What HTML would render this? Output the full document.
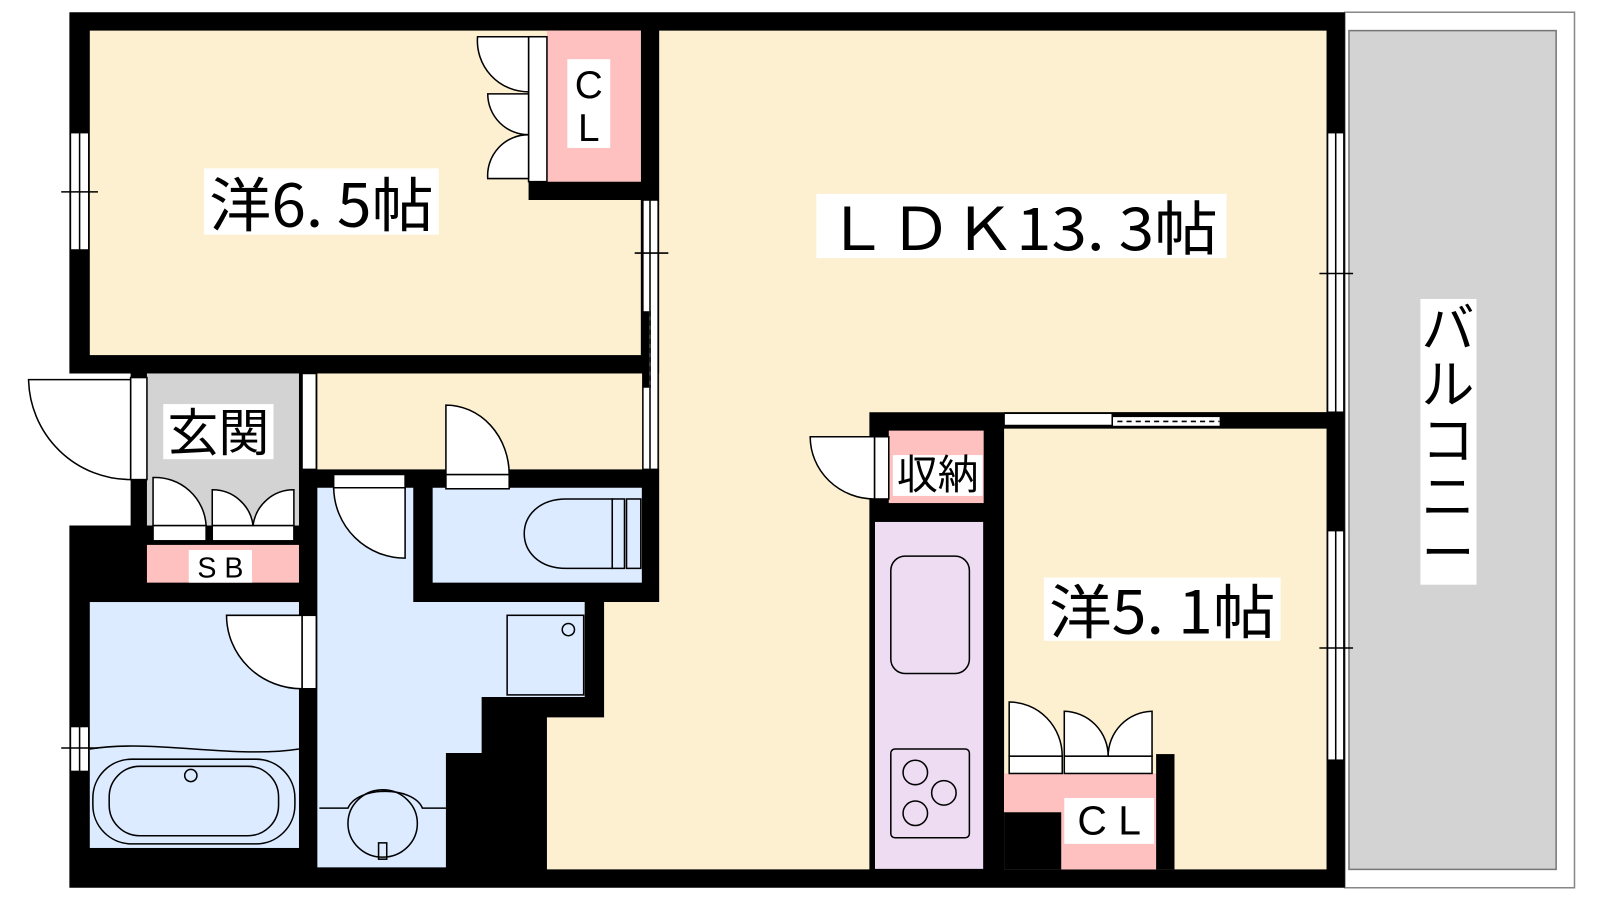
<!DOCTYPE html>
<html><head><meta charset="utf-8"><style>
html,body{margin:0;padding:0;background:#fff;width:1600px;height:900px;overflow:hidden}
svg{display:block}
text{font-family:"Noto Sans CJK JP","Liberation Sans",sans-serif;fill:#000}
text.lat{font-family:"Liberation Sans","Noto Sans CJK JP",sans-serif}
</style></head><body>
<svg width="1600" height="900" viewBox="0 0 1568 882" xmlns="http://www.w3.org/2000/svg">
<rect width="1568" height="882" fill="#fff"/>
<rect x="1318" y="12" width="225" height="858" fill="#fff" stroke="#888" stroke-width="1.5"/>
<rect x="1322" y="30" width="203" height="822" fill="#d3d3d3" stroke="#777" stroke-width="1.5"/>
<polygon points="68,12 1318,12 1318,870 68,870 68,515 128,515 128,366 68,366" fill="#000"/>
<rect x="88" y="30" width="540" height="318" fill="#fdf0d0"/>
<rect x="518" y="178" width="128" height="18" fill="#000"/>
<rect x="536" y="30" width="92" height="148" fill="#ffc0c0"/>
<polygon points="646,30 1300,30 1300,404 852,404 852,852 536,852 536,703 592,703 592,590 646,590" fill="#fdf0d0"/>
<rect x="311" y="366" width="335" height="94" fill="#fdf0d0"/>
<rect x="144" y="366" width="149" height="149" fill="#d3d3d3"/>
<rect x="144" y="534" width="149" height="37" fill="#ffc0c0"/>
<rect x="88" y="590" width="205" height="241" fill="#dcebff"/>
<polygon points="311,478 405,478 405,590 573,590 573,683 472,683 472,738 437,738 437,850 311,850" fill="#dcebff"/>
<rect x="424" y="478" width="205" height="93" fill="#dcebff"/>
<rect x="857" y="511" width="107" height="341" fill="#eedcf3" stroke="#000" stroke-width="1"/>
<rect x="871" y="422" width="93" height="71" fill="#ffc0c0"/>
<rect x="984" y="420" width="316" height="432" fill="#fdf0d0"/>
<rect x="984" y="758" width="149" height="38" fill="#ffc0c0"/>
<rect x="1040" y="796" width="93" height="56" fill="#ffc0c0"/>
<rect x="984" y="796" width="56" height="56" fill="#000"/>
<rect x="1133" y="739" width="18" height="113" fill="#000"/>
<rect x="984" y="404" width="316" height="16" fill="#000"/>

<g fill="#fff" stroke="#000" stroke-width="1.5">
<rect x="69" y="130" width="18" height="115"/><line x1="78" y1="130" x2="78" y2="245"/><line x1="60" y1="188" x2="96" y2="188"/>
<rect x="1301" y="130" width="16" height="274"/><line x1="1309" y1="130" x2="1309" y2="404"/><line x1="1293" y1="268" x2="1326" y2="268"/>
<rect x="1301" y="520" width="16" height="225"/><line x1="1309" y1="520" x2="1309" y2="745"/><line x1="1293" y1="635" x2="1326" y2="635"/>
<rect x="69" y="712" width="18" height="44"/><line x1="78" y1="712" x2="78" y2="756"/><line x1="60" y1="733" x2="96" y2="733"/>
<rect x="630" y="196" width="15" height="264"/><line x1="637" y1="196" x2="637" y2="460"/><line x1="622" y1="248" x2="655" y2="248"/>
<rect x="984" y="405" width="106" height="12"/><rect x="1090" y="408" width="106" height="10"/>
<rect x="518" y="36" width="18" height="142"/>
<path d="M518,36 L468,36 A50,50 0 0 0 518,90 Z"/>
<path d="M518,92 L478,92 A40,40 0 0 0 518,132 A40,40 0 0 0 478,175 L518,175 Z"/>
<rect x="128" y="370" width="16" height="100"/>
<path d="M128,372 L28,372 A100,100 0 0 0 128,470 Z"/>
<rect x="296" y="366" width="14" height="94"/>
<rect x="150" y="515" width="52" height="15"/><rect x="208" y="515" width="80" height="15"/>
<path d="M150,515 L150,468 A50,50 0 0 1 202,515 Z"/>
<path d="M208,515 L208,480 A40,40 0 0 1 248,515 A40,40 0 0 1 288,480 L288,515 Z"/>
<rect x="327" y="465" width="70" height="14"/>
<path d="M397,478 L397,547 A70,70 0 0 1 327,478 Z"/>
<rect x="437" y="465" width="62" height="14"/>
<path d="M437,465 L437,397 A62,68 0 0 1 499,465 Z"/>
<rect x="296" y="603" width="14" height="72"/>
<path d="M296,603 L222,603 A74,72 0 0 0 296,675 Z"/>
<rect x="857" y="428" width="14" height="61"/>
<path d="M857,428 L794,428 A63,61 0 0 0 857,489 Z"/>
<rect x="989" y="741" width="52" height="17"/><rect x="1043" y="741" width="86" height="17"/>
<path d="M989,741 L989,688 A52,53 0 0 1 1041,741 Z"/>
<path d="M1043,741 L1043,697 A44,44 0 0 1 1086,741 A44,44 0 0 1 1129,697 L1129,741 Z"/>
</g>

<g fill="none" stroke="#000" stroke-width="1.5">
<path d="M600,489 L555,489 C500,489 500,557 555,557 L600,557 Z"/>
<rect x="600" y="489" width="12" height="68"/><rect x="614" y="489" width="14" height="68"/>
<rect x="497" y="603" width="75" height="78"/><circle cx="557" cy="617" r="6"/>
<path d="M313,792 L341,792 C350,770 405,770 414,792 L437,792"/>
<ellipse cx="375" cy="807" rx="34" ry="33"/><rect x="371" y="826" width="8" height="16"/>
<path d="M88,734 C150,724 230,744 293,734"/>
<rect x="91" y="744" width="198" height="83" rx="38"/>
<rect x="107" y="751" width="166" height="68" rx="30"/>
<ellipse cx="187" cy="760" rx="6" ry="6"/>
<rect x="873" y="545" width="77" height="115" rx="14"/>
<rect x="873" y="734" width="77" height="87" rx="4"/>
<circle cx="897" cy="757" r="12"/><circle cx="925" cy="777" r="12"/><circle cx="897" cy="797" r="12"/>
<line x1="1095" y1="413" x2="1195" y2="413" stroke-dasharray="5,4"/>
<line x1="637" y1="305" x2="637" y2="380" stroke-dasharray="5,4"/>
</g>
<rect x="630" y="305" width="6" height="75" fill="#000"/>

<g>
<rect x="200" y="165" width="230" height="65" fill="#fff"/>
<text x="315" y="222" font-size="58" text-anchor="middle" textLength="220" lengthAdjust="spacingAndGlyphs">洋6. 5帖</text>
<rect x="800" y="190" width="402" height="63" fill="#fff"/>
<text x="1001" y="245" font-size="58" text-anchor="middle" textLength="385" lengthAdjust="spacingAndGlyphs">ＬＤＫ13. 3帖</text>
<rect x="1023" y="566" width="232" height="62" fill="#fff"/>
<text x="1139" y="621" font-size="58" text-anchor="middle" textLength="222" lengthAdjust="spacingAndGlyphs">洋5. 1帖</text>
<rect x="160" y="396" width="108" height="54" fill="#fff"/>
<text x="214" y="442" font-size="50" text-anchor="middle">玄関</text>
<rect x="875" y="446" width="88" height="40" fill="#fff"/>
<text x="919" y="479" font-size="40" text-anchor="middle">収納</text>
<rect x="556" y="58" width="42" height="87" fill="#fff"/>
<text class="lat" x="577" y="96" font-size="38" text-anchor="middle">C</text>
<text class="lat" x="577" y="138" font-size="38" text-anchor="middle">L</text>
<rect x="185" y="539" width="62" height="32" fill="#fff"/>
<text class="lat" x="216" y="566" font-size="28" text-anchor="middle">S B</text>
<rect x="1043" y="782" width="88" height="45" fill="#fff"/>
<text class="lat" x="1087" y="818" font-size="40" text-anchor="middle">C L</text>
<rect x="1392" y="293" width="55" height="280" fill="#fff"/>
<text x="1419" y="340" font-size="52" text-anchor="middle">バ</text>
<text x="1419" y="395" font-size="52" text-anchor="middle">ル</text>
<text x="1419" y="450" font-size="52" text-anchor="middle">コ</text>
<text x="1419" y="505" font-size="52" text-anchor="middle">ニ</text>
<text x="1419" y="560" font-size="52" text-anchor="middle">ー</text>
</g>
</svg>
</body></html>
